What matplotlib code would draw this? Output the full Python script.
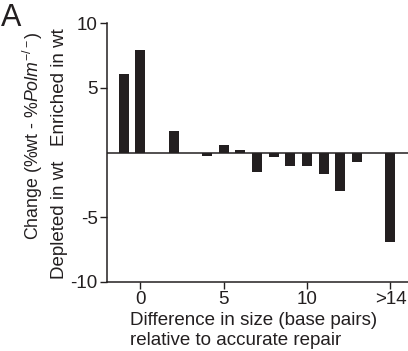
import matplotlib
matplotlib.use('Agg')
import matplotlib.pyplot as plt

# размер делеции/вставки относительно точной репарации и разница %wt - %Polm-/-
positions = [-1, 0, 2, 4, 5, 6, 7, 8, 9, 10, 11, 12, 13, 15]
changes = [6.1, 7.95, 1.7, -0.28, 0.6, 0.2, -1.47, -0.36, -1.08, -1.08, -1.65, -2.96, -0.77, -6.93]
xtick_pos = [0, 5, 10, 15]
xtick_labels = ['0', '5', '10', '>14']
ytick_pos = [-10, -5, 5, 10]

plt.rcParams['font.family'] = ['Liberation Sans', 'DejaVu Sans']
plt.rcParams['mathtext.fontset'] = 'custom'
plt.rcParams['mathtext.rm'] = 'Liberation Sans'
plt.rcParams['mathtext.it'] = 'Liberation Sans:italic'

fig = plt.figure(figsize=(4.08, 3.51), dpi=100)
ax = fig.add_axes([0.262, 0.197, 0.738, 0.737])

col = '#231f20'
ax.bar(positions, changes, width=0.6, color=col)
ax.axhline(0, color=col, lw=1.1)

ax.set_xlim(-2, 16.05)
ax.set_ylim(-10, 10)
ax.set_xticks(xtick_pos)
ax.set_xticklabels(xtick_labels)
ax.set_yticks(ytick_pos)
ax.set_yticklabels([str(v) for v in ytick_pos])
ax.tick_params(labelsize=13.5, length=5, width=1, color=col, labelcolor=col, pad=1.5)

for s in ['top', 'right']:
    ax.spines[s].set_visible(False)
for s in ['left', 'bottom']:
    ax.spines[s].set_color(col)
    ax.spines[s].set_linewidth(1.1)

fs = 13.5
# подписи осей
fig.text(0.08, 0.615, r'Change (%wt - %$\it{Polm}^{-/-}$)', rotation=90,
         ha='center', va='center', fontsize=12.8, color=col)
fig.text(0.147, 0.752, 'Enriched in wt', rotation=90,
         ha='center', va='center', fontsize=fs, color=col)
fig.text(0.147, 0.373, 'Depleted in wt', rotation=90,
         ha='center', va='center', fontsize=fs, color=col)
fig.text(0.318, 0.087, 'Difference in size (base pairs)', ha='left', va='center',
         fontsize=fs, color=col)
fig.text(0.318, 0.03, 'relative to accurate repair', ha='left', va='center',
         fontsize=fs, color=col)
fig.text(0.003, 0.948, 'A', ha='left', va='center', fontsize=22, color=col)

fig.savefig('out.png', dpi=100)
